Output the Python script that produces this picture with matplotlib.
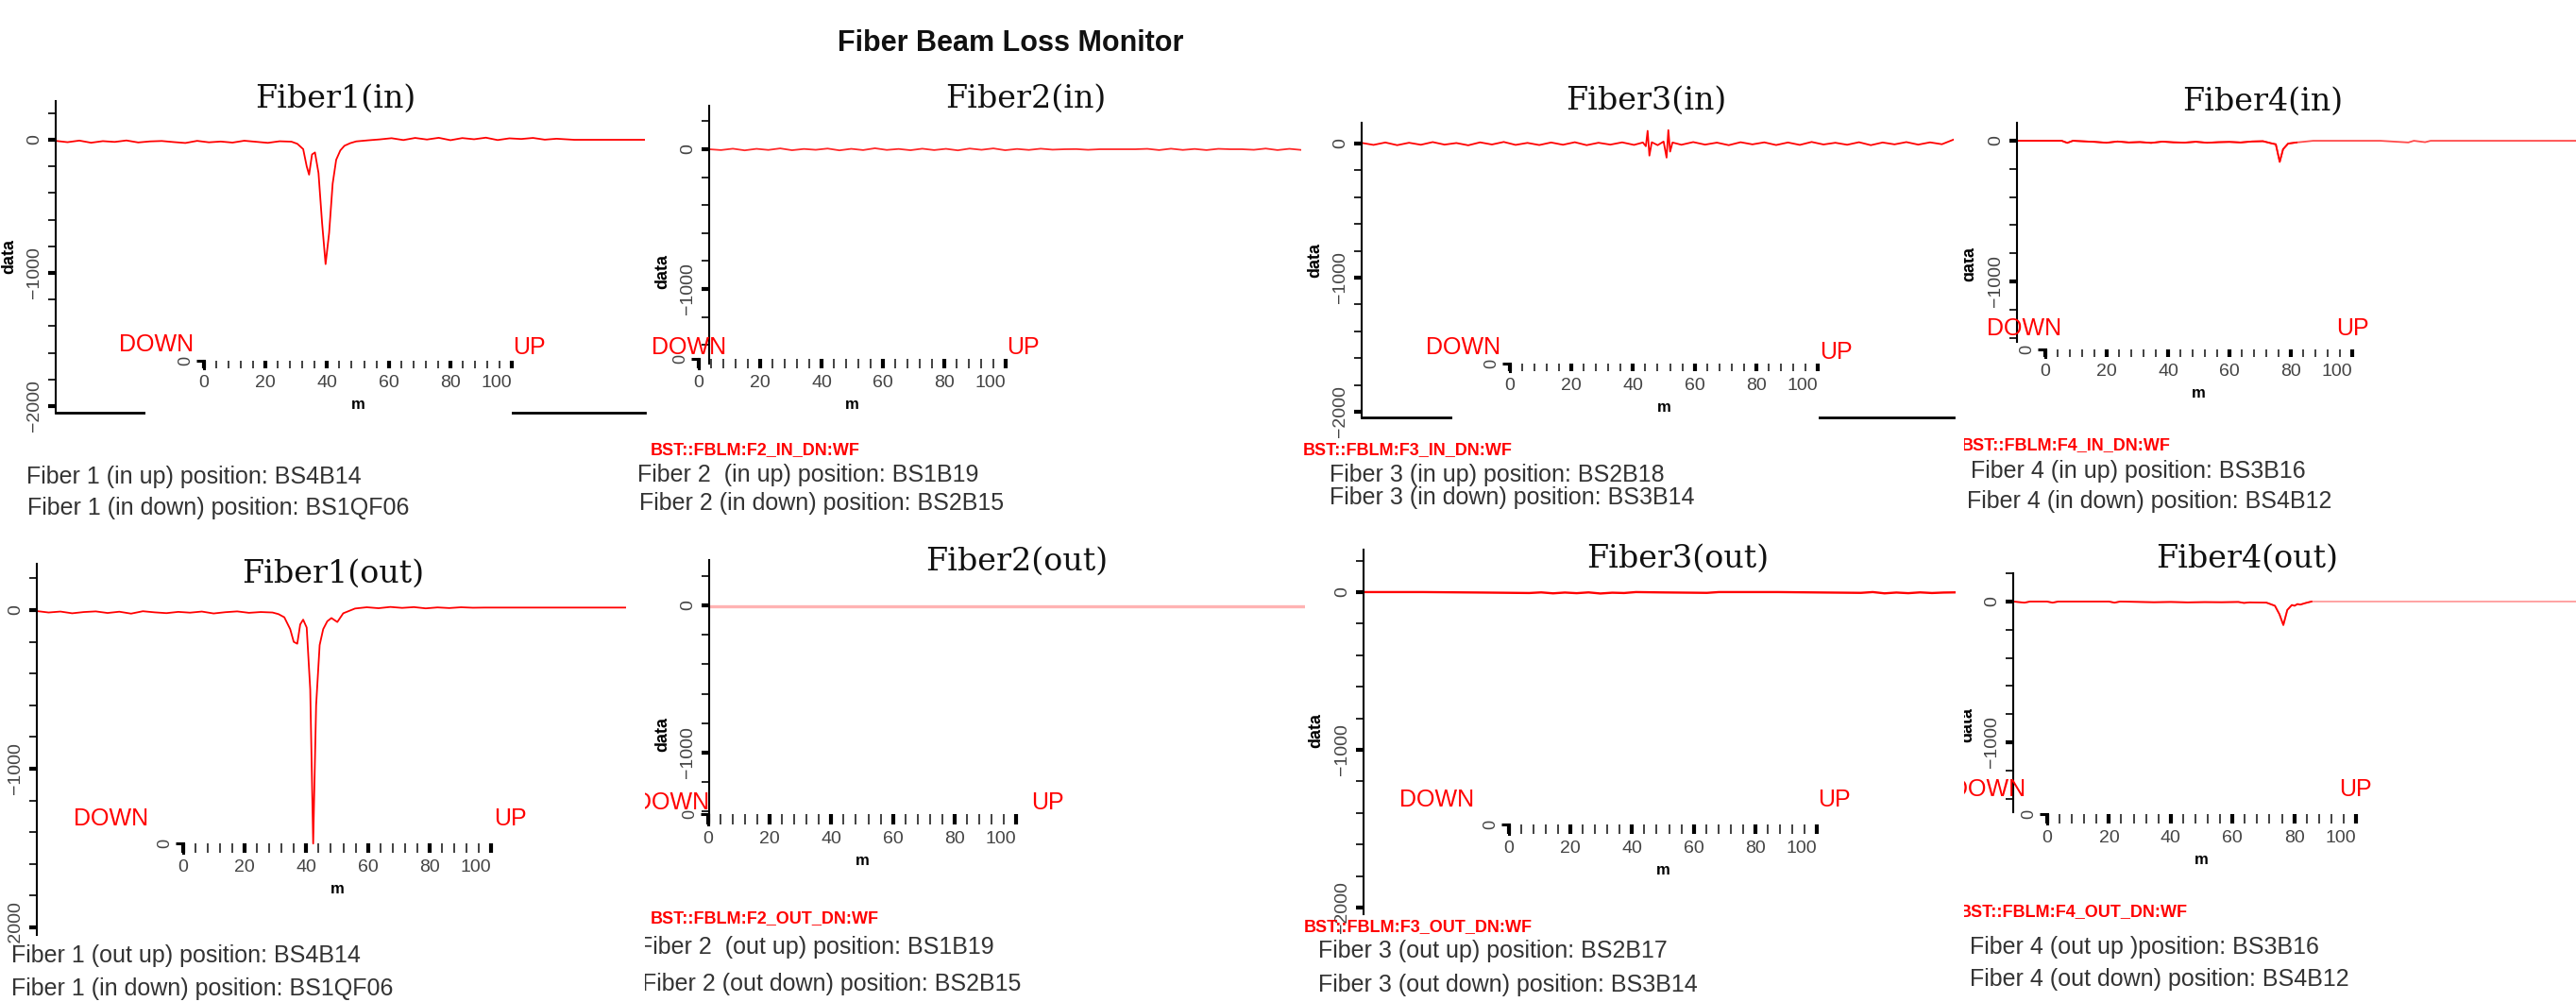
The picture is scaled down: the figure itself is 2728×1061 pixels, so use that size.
import numpy as np
import matplotlib
matplotlib.use("Agg")
import matplotlib.pyplot as plt
from matplotlib.patches import Rectangle

plt.rcParams['font.family'] = ['Liberation Sans', 'DejaVu Sans']

W, H = 2728, 1061

# ---- trace data: x in % of the trace length, y in raw counts ----
grid_x = [0, 2, 4, 6, 8, 10, 12, 14, 16, 18, 20, 22, 24, 26, 28, 30, 32, 34, 36, 38, 40,
          42, 44, 46, 48, 50, 52, 54, 56, 58, 60, 62, 64, 66, 68, 70, 72, 74, 76, 78, 80,
          82, 84, 86, 88, 90, 92, 94, 96, 98, 100]

f1_in_x = [0, 2, 4, 6, 8, 10, 12, 14, 16, 18, 20, 22, 24, 26, 28, 30, 32, 34, 36, 38, 40,
           41, 42, 42.6, 43, 43.5, 44, 44.6, 45.2, 45.8, 46.4, 47, 47.6, 48.3, 49, 50, 51,
           53, 55, 57, 59, 61, 63, 65, 67, 69, 71, 73, 75, 77, 79, 81, 83, 85,
           88, 92, 96, 100]
f1_in_y = [-8, -18, -6, -22, -10, -16, -5, -20, -12, -9, -17, -24, -8, -19, -13, -21, -7, -15, -23, -11, -14,
           -30, -70, -200, -262, -110, -95, -250, -620, -934, -700, -330, -150, -80, -45, -25, -12,
           -4, 3, 12, -2, 14, 2, 15, -3, 13, 4, 16, -2, 11, 6, 14, 1, 8,
           0, 0, 0, 0]

f2_in_y = [0, -6, 4, -8, 3, -5, 6, -7, 2, -4, 5, -8, 3, -6, 7, -5, 2, -7, 4, -6,
           3, -8, 5, -4, 6, -7, 2, -5, 4, -3, 0, 1, -4, 0, 0, 0, 0, 3, -6, 4,
           -5, 2, -6, 3, 0, 0, -4, 5, -6, 3, -5]

f3_in_x = [0, 2, 4, 6, 8, 10, 12, 14, 16, 18, 20, 22, 24, 26, 28, 30, 32, 34, 36, 38, 40, 42, 44, 46,
           47.5, 48, 48.3, 48.6, 49, 50, 51, 51.5, 51.8, 52.1, 52.5,
           54, 56, 58, 60, 62, 64, 66, 68, 70, 72, 74, 76, 78, 80, 82, 84, 86, 88, 90, 92, 94, 96, 98, 100]
f3_in_y = [5, -10, 8, -12, 6, -9, 11, -8, 4, -13, 9, -7, 12, -10, 5, -11, 8, -9, 10, -12, 6, -8, 9, -10,
           8, -20, 95, -90, 10, -12, 15, -105, 100, -60, 8,
           -9, 11, -8, 7, -12, 10, -6, 9, -11, 8, -10, 12, -7, 6, -9, 10, -12, 8, -6, 11, -8, 9, -5, 30]

f4_in_x = [0, 4, 8, 9, 10, 14, 16, 18, 20, 22, 24, 26, 28, 30, 32, 34, 36, 38, 40, 42, 44,
           45.5, 46.3, 47, 47.6, 48.5, 50, 51, 53, 56, 60, 65, 70, 71, 73, 74, 80, 90, 100]
f4_in_y = [0, 0, 0, -15, 0, -8, -14, -5, -12, -9, -15, -6, -11, -13, -7, -14, -10, -8, -12, -5, -3,
           -18, -25, -150, -60, -20, -12, -8, 0, 0, 0, 0, -12, 0, -10, 0, 0, 0, 0]

f1_out_x = [0, 2, 4, 6, 8, 10, 12, 14, 16, 18, 20, 22, 24, 26, 28, 30, 32, 34, 36, 38, 40,
            41, 42, 43, 43.6, 44.2, 44.7, 45.2, 45.8, 46.4, 46.9, 47.4, 48, 48.6, 49.3, 50, 51, 52,
            54, 56, 58, 60, 62, 64, 66, 68, 70, 72, 74, 76, 80, 90, 100]
f1_out_y = [-6, -15, -9, -20, -12, -8, -18, -10, -22, -7, -14, -19, -11, -16, -9, -21, -13, -8, -17, -12, -15,
            -25, -45, -120, -200, -212, -90, -60, -110, -500, -1472, -600, -220, -120, -70, -50, -75, -20,
            10, 18, 12, 20, 14, 19, 11, 17, 13, 18, 15, 16, 16, 16, 16]

f2_out_x = [0, 100]
f2_out_y = [-5, -5]

f3_out_x = [0, 10, 20, 28, 30, 32, 34, 36, 38, 40, 42, 44, 46, 50, 58, 60, 70, 84, 86, 88, 90, 92, 94, 96, 98, 100]
f3_out_y = [0, 0, -3, -6, -2, -8, -3, -7, -2, -9, -4, -6, 0, -2, -5, 0, 0, -5, 0, -8, -3, -7, -2, -6, -3, -2]

f4_out_x = [0, 2, 3, 6, 7, 8, 17, 18, 19, 25, 28, 31, 34, 37, 40, 41, 42, 45, 46.5, 47.3,
            48, 48.7, 49.5, 50, 50.5, 51, 52, 53, 60, 70, 80, 90, 100]
f4_out_y = [0, -8, 0, 0, -8, 0, 0, -8, 0, -5, -3, -6, -4, -5, -3, -10, -6, -8, -30, -90,
            -167, -60, -25, -30, -18, -22, -10, 0, 0, 0, 0, 0, 0]

traces = [(f1_in_x, f1_in_y), (grid_x, f2_in_y), (f3_in_x, f3_in_y), (f4_in_x, f4_in_y),
          (f1_out_x, f1_out_y), (f2_out_x, f2_out_y), (f3_out_x, f3_out_y), (f4_out_x, f4_out_y)]

titles = ["Fiber1(in)", "Fiber2(in)", "Fiber3(in)", "Fiber4(in)",
          "Fiber1(out)", "Fiber2(out)", "Fiber3(out)", "Fiber4(out)"]
pv_names = [None, "BST::FBLM:F2_IN_DN:WF", "BST::FBLM:F3_IN_DN:WF", "BST::FBLM:F4_IN_DN:WF",
            None, "BST::FBLM:F2_OUT_DN:WF", "BST::FBLM:F3_OUT_DN:WF", "BST::FBLM:F4_OUT_DN:WF"]
up_lines = ["Fiber 1 (in up) position: BS4B14", "Fiber 2  (in up) position: BS1B19",
            "Fiber 3 (in up) position: BS2B18", "Fiber 4 (in up) position: BS3B16",
            "Fiber 1 (out up) position: BS4B14", "Fiber 2  (out up) position: BS1B19",
            "Fiber 3 (out up) position: BS2B17", "Fiber 4 (out up )position: BS3B16"]
down_lines = ["Fiber 1 (in down) position: BS1QF06", "Fiber 2 (in down) position: BS2B15",
              "Fiber 3 (in down) position: BS3B14", "Fiber 4 (in down) position: BS4B12",
              "Fiber 1 (in down) position: BS1QF06", "Fiber 2 (out down) position: BS2B15",
              "Fiber 3 (out down) position: BS3B14", "Fiber 4 (out down) position: BS4B12"]
m_ticks = [0, 20, 40, 60, 80, 100]

# ---- layout, in pixels of the 2728x1061 canvas ----
panels = [
    dict(clip=(0, 0, 680, 556), spine=59, top=107, bottom=437, right=683, ylim=(-2050, 291),
         bspine=True, cover=(154, 542, 430, 445), title=(355, 105), inset=(216, 542, 382, 390),
         down=(166, 365), up=(560, 368), ylab=(10, 272), pv=None, l1=(28, 505), l2=(29, 538),
         color='#ff0000', fade=None, lw=1.3),
    dict(clip=(672, 0, 1380, 556), spine=751, top=112, bottom=385, right=1378, ylim=(-1534, 311),
         bspine=False, cover=None, title=(1086, 105), inset=(740, 1065, 380, 390),
         down=(730, 368), up=(1083, 368), ylab=(702, 287), pv=(689, 477), l1=(675, 503), l2=(677, 533),
         color='#ff2a2a', fade=None, lw=1.3),
    dict(clip=(1378, 0, 2076, 556), spine=1442, top=130, bottom=442, right=2069, ylim=(-2042, 155),
         bspine=True, cover=(1538, 1926, 435, 450), title=(1743, 107), inset=(1599, 1925, 385, 393),
         down=(1550, 368), up=(1944, 373), ylab=(1393, 275), pv=(1380, 477), l1=(1408, 503), l2=(1408, 527),
         color='#ff0000', fade=None, lw=1.3),
    dict(clip=(2080, 0, 2728, 556), spine=2136, top=130, bottom=362, right=2728, ylim=(-1430, 128),
         bspine=False, cover=None, title=(2396, 108), inset=(2166, 2491, 370, 378),
         down=(2144, 348), up=(2491, 348), ylab=(2086, 280), pv=(2077, 472), l1=(2087, 499), l2=(2083, 531),
         color='#ff0000', fade=50, fade_color='#ff4a4a', lw=1.3),
    dict(clip=(0, 556, 684, 1061), spine=39, top=597, bottom=990, right=663, ylim=(-2048, 292),
         bspine=False, cover=None, title=(353, 608), inset=(194, 520, 893, 903),
         down=(118, 867), up=(540, 867), ylab=None, pv=None, l1=(12, 1012), l2=(12, 1047),
         color='#ff0000', fade=None, lw=1.3),
    dict(clip=(683, 556, 1380, 1061), spine=751, top=593, bottom=870, right=1382, ylim=(-1468, 308),
         bspine=False, cover=None, title=(1077, 595), inset=(750, 1076, 862, 873),
         down=(712, 850), up=(1109, 850), ylab=(702, 777), pv=(689, 973), l1=(676, 1003), l2=(680, 1042),
         color='#ffb3b3', fade=None, lw=2.4),
    dict(clip=(1378, 556, 2078, 1061), spine=1444, top=582, bottom=968, right=2071, ylim=(-2042, 269),
         bspine=False, cover=None, title=(1777, 592), inset=(1598, 1924, 873, 883),
         down=(1522, 847), up=(1942, 847), ylab=(1394, 773), pv=(1381, 982), l1=(1396, 1007), l2=(1396, 1043),
         color='#ff0000', fade=None, lw=1.7),
    dict(clip=(2080, 556, 2728, 1061), spine=2132, top=607, bottom=860, right=2728, ylim=(-1497, 201),
         bspine=False, cover=None, title=(2380, 592), inset=(2168, 2495, 862, 872),
         down=(2106, 836), up=(2494, 836), ylab=(2084, 767), pv=(2075, 966), l1=(2086, 1003), l2=(2086, 1037),
         color='#ff0000', fade=53, fade_color='#ff9c9c', lw=1.3),
]

fig = plt.figure(figsize=(W / 100, H / 100), dpi=100)
fig.patch.set_facecolor('white')


def px_axes(left, top, right, bottom):
    return fig.add_axes([left / W, 1 - bottom / H, (right - left) / W, (bottom - top) / H])


PT = 0.72  # points per pixel at dpi 100

for i, p in enumerate(panels):
    xs, ys = np.array(traces[i][0]), np.array(traces[i][1])

    # main waveform axes
    ax = px_axes(p['spine'], p['top'], p['right'], p['bottom'])
    ax.set_zorder(0)
    ax.patch.set_alpha(0)
    if p['fade'] is None:
        ax.plot(xs, ys, color=p['color'], lw=p['lw'])
    else:
        ax.plot(xs, ys, color=p['fade_color'], lw=p['lw'])
        keep = xs <= p['fade']
        ax.plot(xs[keep], ys[keep], color=p['color'], lw=p['lw'])
    ax.set_xlim(0, 100)
    ax.set_ylim(*p['ylim'])
    ax.set_xticks([])
    for s in ('top', 'right'):
        ax.spines[s].set_visible(False)
    ax.spines['bottom'].set_visible(p['bspine'])
    ax.spines['bottom'].set_linewidth(2)
    ax.spines['left'].set_linewidth(1.5)
    lo, hi = p['ylim']
    ax.set_yticks([v for v in (0, -1000, -2000) if lo <= v <= hi])
    ax.set_yticks([v for v in range(-2000, 201, 200) if lo <= v <= hi], minor=True)
    ax.tick_params(axis='y', which='major', length=8 * PT, width=3, labelsize=14,
                   labelcolor='#444444', pad=4, labelrotation=90)
    ax.tick_params(axis='y', which='minor', length=8 * PT, width=1.2)
    for lab in ax.get_yticklabels():
        lab.set_va('center')

    # white gap in the bottom spine behind the distance scale
    if p['cover'] is not None:
        x1, x2, y1, y2 = p['cover']
        fig.add_artist(Rectangle((x1 / W, 1 - y2 / H), (x2 - x1) / W, (y2 - y1) / H,
                                 transform=fig.transFigure, facecolor='white',
                                 edgecolor='none', zorder=1))

    # small distance scale (m)
    x0, x100, rt, rb = p['inset']
    ins = px_axes(x0, rt, x100, rb)
    ins.set_zorder(2)
    ins.patch.set_alpha(0)
    ins.set_xlim(0, 100)
    ins.set_ylim(0, 1)
    for s in ('top', 'right', 'bottom'):
        ins.spines[s].set_visible(False)
    ins.spines['left'].set_linewidth(2.2)
    ins.set_xticks(m_ticks)
    ins.set_xticks(list(range(0, 101, 4)), minor=True)
    hpt = (rb - rt) * PT
    ins.tick_params(axis='x', which='major', direction='in', length=hpt, width=3,
                    labelsize=14, labelcolor='#444444', pad=5)
    ins.tick_params(axis='x', which='minor', direction='in', length=hpt, width=1.3, color='#333333')
    ins.get_xticklabels()[-1].set_ha('right')
    ins.set_yticks([1])
    ins.set_yticklabels(['0'])
    ins.tick_params(axis='y', length=8 * PT, width=2.2, labelsize=13, pad=2,
                    labelrotation=90, labelcolor='#444444')
    for lab in ins.get_yticklabels():
        lab.set_va('center')
    ins.set_xlabel('m', fontsize=12, fontweight='bold', labelpad=5)

    # text layer, clipped to the panel region
    l, t, r, b = p['clip']
    bg = px_axes(l, t, r, b)
    bg.set_zorder(3)
    bg.set_xlim(l, r)
    bg.set_ylim(b, t)
    bg.axis('off')
    bg.patch.set_visible(False)

    bg.text(*p['title'], titles[i], family='DejaVu Serif', fontsize=24,
            ha='center', va='center', color='#111111', clip_on=True)
    bg.text(*p['down'], 'DOWN', color='#ff0000', fontsize=18, ha='center', va='center', clip_on=True)
    bg.text(*p['up'], 'UP', color='#ff0000', fontsize=18, ha='center', va='center', clip_on=True)
    if p['ylab'] is not None:
        bg.text(*p['ylab'], 'data', rotation=90, fontsize=13, fontweight='bold',
                ha='center', va='center', clip_on=True)
    if p['pv'] is not None:
        bg.text(*p['pv'], pv_names[i], color='#ff0000', fontsize=13, fontweight='bold',
                ha='left', va='center', clip_on=True)
    bg.text(*p['l1'], up_lines[i], fontsize=18, color='#333333', ha='left', va='center', clip_on=True)
    bg.text(*p['l2'], down_lines[i], fontsize=18, color='#333333', ha='left', va='center', clip_on=True)

fig.text(1070 / W, 1 - 46 / H, 'Fiber Beam Loss Monitor', fontsize=22, fontweight='bold',
         ha='center', va='center', color='#111111')

fig.savefig('out.png', dpi=100, facecolor='white')
